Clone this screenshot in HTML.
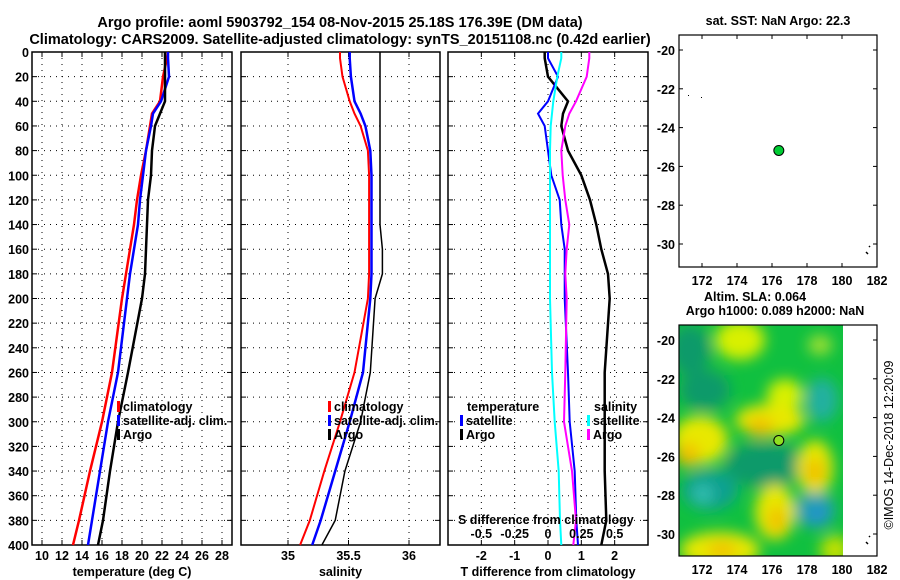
<!DOCTYPE html>
<html><head><meta charset="utf-8">
<style>
html,body{margin:0;padding:0;background:#fff;}
svg{display:block;font-family:"Liberation Sans",sans-serif;font-weight:bold;}
</style></head>
<body>
<svg id="chart" width="900" height="580" viewBox="0 0 900 580" xmlns="http://www.w3.org/2000/svg">
<text x="340" y="27" font-size="14.5" text-anchor="middle">Argo profile: aoml 5903792_154 08-Nov-2015 25.18S 176.39E (DM data)</text>
<text x="340" y="44" font-size="14.5" text-anchor="middle">Climatology: CARS2009. Satellite-adjusted climatology: synTS_20151108.nc (0.42d earlier)</text>
<g id="g"></g>
</svg>
<script>
const depths = [0,5,20,40,50,60,80,100,120,140,160,180,200,260,300,340,380,400];
const tempClim = [22.6,22.5,22.1,21.8,21.0,20.8,20.4,19.9,19.5,19.2,18.8,18.4,18.0,17.0,16.0,14.8,13.7,13.1];
const tempSat  = [22.6,22.6,22.7,21.9,21.1,20.9,20.4,20.1,19.8,19.6,19.2,18.8,18.5,17.6,16.6,15.8,15.0,14.6];
const tempArgo = [22.3,22.3,22.3,22.3,21.8,21.3,21.0,20.9,20.6,20.5,20.4,20.3,20.0,18.6,17.6,16.8,16.1,15.6];
const salClim = [35.43,35.43,35.45,35.51,35.55,35.6,35.66,35.67,35.67,35.67,35.67,35.67,35.66,35.55,35.43,35.3,35.18,35.1];
const salSat  = [35.51,35.51,35.52,35.55,35.6,35.64,35.68,35.69,35.69,35.69,35.69,35.69,35.68,35.62,35.51,35.39,35.27,35.2];
const salArgo = [35.76,35.76,35.76,35.76,35.76,35.76,35.76,35.76,35.76,35.76,35.78,35.78,35.72,35.68,35.6,35.47,35.39,35.28];
const tDiffSat  = [0.0,0.0,0.3,0.0,-0.3,-0.1,0.0,0.1,0.35,0.4,0.5,0.5,0.5,0.6,0.65,0.8,0.85,0.9];
const tDiffArgo = [-0.1,-0.1,0.0,0.6,0.45,0.4,0.6,1.0,1.26,1.45,1.6,1.8,1.85,1.7,1.7,1.7,1.75,1.6];
const sDiffSat  = [0.1,0.1,0.07,0.04,0.03,0.02,0.015,0.015,0.015,0.015,0.015,0.015,0.015,0.03,0.05,0.08,0.09,0.1];
const sDiffArgo = [0.31,0.31,0.29,0.21,0.16,0.13,0.1,0.11,0.13,0.16,0.14,0.13,0.14,0.13,0.12,0.18,0.21,0.19];
const depthTicks = [0,20,40,60,80,100,120,140,160,180,200,220,240,260,280,300,320,340,360,380,400];
const tempTicks = [10,12,14,16,18,20,22,24,26,28];
const salTicks = [35,35.5,36];
const salTickLabels = ["35","35.5","36"];
const tdTicks = [-2,-1,0,1,2];
const sdTicks = [-0.5,-0.25,0,0.25,0.5];
const sdTickLabels = ["-0.5","-0.25","0","0.25","0.5"];
const lonTicks = [172,174,176,178,180,182];
const latTicks = [-20,-22,-24,-26,-28,-30];
const argoLon = 176.39, argoLat = -25.18;

const NS="http://www.w3.org/2000/svg";
const G=document.getElementById('g');
function el(tag,attrs,parent){const e=document.createElementNS(NS,tag);for(const k in attrs)e.setAttribute(k,attrs[k]);(parent||G).appendChild(e);return e;}
const Y0=52,Y1=545;
const yD=d=>Y0+d*(Y1-Y0)/400;
const xT=t=>32+(t-9)*10;
const xS=s=>288+(s-35)*121;
const xTD=t=>548+t*33.33;
const xSD=s=>548+s*133.33;

function panel(name,x0,x1,xticks,xf,labels,xlabel,showY){
  const grp=el('g',{});
  
  
  depthTicks.forEach(d=>{
    if(d>0&&d<400){const l=el('line',{x1:x0,x2:x1,y1:yD(d),y2:yD(d),stroke:'#000','stroke-width':1,'stroke-dasharray':'1,5'},grp);}
    el('line',{x1:x0,x2:x0+5,y1:yD(d),y2:yD(d),stroke:'#000'},grp);
    el('line',{x1:x1-5,x2:x1,y1:yD(d),y2:yD(d),stroke:'#000'},grp);
    if(showY){const t=el('text',{x:29,y:yD(d)+5,'font-size':12.5,'text-anchor':'end'},grp);t.textContent=d;}
  });
  xticks.forEach((v,i)=>{
    const x=xf(v);
    const l=el('line',{x1:x,x2:x,y1:Y0,y2:Y1,stroke:'#000','stroke-width':1,'stroke-dasharray':'1,5'},grp);
    
    el('line',{x1:x,x2:x,y1:Y0,y2:Y0+5,stroke:'#000'},grp);
    el('line',{x1:x,x2:x,y1:Y1-5,y2:Y1,stroke:'#000'},grp);
    const t=el('text',{x:x,y:560,'font-size':12.5,'text-anchor':'middle'},grp);t.textContent=labels[i];
    
  });
  const r=el('rect',{x:x0,y:Y0,width:x1-x0,height:Y1-Y0,fill:'none',stroke:'#000','stroke-width':1.5},grp);
  
  const t=el('text',{x:(x0+x1)/2,y:576,'font-size':12.5,'text-anchor':'middle'},grp);t.textContent=xlabel;
  
  return grp;
}
function line(vals,xf,color,w,name){
  const p=vals.map((v,i)=>(i?'L':'M')+xf(v).toFixed(1)+','+yD(depths[i]).toFixed(1)).join('');
  const e=el('path',{d:p,fill:'none',stroke:color,'stroke-width':w});
  
  
}
function legend(x,y,color,label,name){
  const m=el('rect',{x:x,y:y-10,width:3,height:11,fill:color});
  
  const t=el('text',{x:x+6,y:y,'font-size':12.5});t.textContent=label;
  
}
function txt(x,y,s,name,anchor,size){const t=el('text',{x:x,y:y,'font-size':size||12.5,'text-anchor':anchor||'start'});t.textContent=s;return t;}

// Panel 1
panel('temperature-panel',32,232,tempTicks,xT,tempTicks.map(String),'temperature (deg C)',true);
line(tempClim,xT,'#f00',2.5,'temp-climatology-line');
line(tempSat,xT,'#00f',2.5,'temp-satellite-line');
line(tempArgo,xT,'#000',2.5,'temp-argo-line');
legend(117,411,'#f00','climatology','legend-climatology');
legend(117,425,'#00f','satellite-adj. clim.','legend-satellite-adj');
legend(117,439,'#000','Argo','legend-argo');
// Panel 2
panel('salinity-panel',241,440,salTicks,xS,salTickLabels,'salinity',false);
line(salClim,xS,'#f00',2,'sal-climatology-line');
line(salSat,xS,'#00f',2.5,'sal-satellite-line');
line(salArgo,xS,'#000',1.5,'sal-argo-line');
legend(328,411,'#f00','climatology','legend-sal-climatology');
legend(328,425,'#00f','satellite-adj. clim.','legend-sal-satellite-adj');
legend(328,439,'#000','Argo','legend-sal-argo');
// Panel 3
panel('difference-panel',448,648,tdTicks,xTD,tdTicks.map(String),'T difference from climatology',false);
line(tDiffArgo,xTD,'#000',2.5,'tdiff-argo-line');
line(tDiffSat,xTD,'#00f',2,'tdiff-satellite-line');
line(sDiffSat,xSD,'#0ff',2,'sdiff-satellite-line');
line(sDiffArgo,xSD,'#f0f',2,'sdiff-argo-line');
txt(467,411,'temperature','legend-temperature-heading');
legend(460,425,'#00f','satellite','legend-tdiff-satellite');
legend(460,439,'#000','Argo','legend-tdiff-argo');
txt(594,411,'salinity','legend-salinity-heading');
legend(587,425,'#0ff','satellite','legend-sdiff-satellite');
legend(587,439,'#f0f','Argo','legend-sdiff-argo');
txt(458,524,'S difference from climatology','s-diff-axis-title');
sdTicks.forEach((v,i)=>txt(xSD(v),538,sdTickLabels[i],'s-diff-tick-label','middle'));

// Maps
const MX0=679,MX1=877;
const lonX=l=>702+(l-172)*17.5;
function map(name,y0,y1,latY,title,yT){
  const grp=el('g',{});
  
  latTicks.forEach(v=>{
    const y=latY(v);
    el('line',{x1:MX0,x2:MX0+4,y1:y,y2:y,stroke:'#000'},grp);
    el('line',{x1:MX1-4,x2:MX1,y1:y,y2:y,stroke:'#000'},grp);
    const t=el('text',{x:675,y:y+5,'font-size':12.5,'text-anchor':'end'},grp);t.textContent=String(v).replace('-','-');
    
  });
  lonTicks.forEach(v=>{
    const x=lonX(v);
    el('line',{x1:x,x2:x,y1:y0,y2:y0+4,stroke:'#000'},grp);
    el('line',{x1:x,x2:x,y1:y1-4,y2:y1,stroke:'#000'},grp);
    const t=el('text',{x:x,y:y1+18,'font-size':12.5,'text-anchor':'middle'},grp);t.textContent=v;
    
  });
  return grp;
}
// top map
const latY1=l=>50+(-20-l)*19.4;
map('sst-map',35,267,latY1);
txt(778,25,'sat. SST: NaN Argo: 22.3','sst-map-title','middle');
el('rect',{x:MX0,y:35,width:MX1-MX0,height:232,fill:'none',stroke:'#000','stroke-width':1.2});
const dot=el('circle',{cx:lonX(argoLon),cy:latY1(argoLat),r:5,fill:'#00cc33',stroke:'#000','stroke-width':1});

el('rect',{x:688,y:95,width:1,height:1,fill:'#000'});el('rect',{x:701,y:97,width:1,height:1,fill:'#000'});
el('path',{d:'M866,252 l2,2 M869,247 l1,-1',stroke:'#000','stroke-width':1.5});

// bottom map
const latY2=l=>340+(-20-l)*19.4;
const defs=el('defs',{});
const f=el('filter',{id:'bl',x:'-50%',y:'-50%',width:'200%',height:'200%'},defs);
el('feGaussianBlur',{stdDeviation:7},f);
const cp=el('clipPath',{id:'cp'},defs);
el('rect',{x:MX0,y:325,width:164,height:231},cp);
map('sla-map',325,556,latY2);
const hm=el('g',{'clip-path':'url(#cp)'});

el('rect',{x:MX0,y:325,width:164,height:231,fill:'#10c040'},hm);
const blobs=el('g',{filter:'url(#bl)'},hm);
[[690,350,20,25,'#0a9a6a'],[740,340,25,20,'#d8f000'],[785,395,18,16,'#d8f000'],[820,345,12,10,'#a0e030'],
 [705,390,25,20,'#0a9a6a'],[822,400,16,22,'#20b0a0'],[770,420,35,16,'#e8e800'],[760,427,14,10,'#f0c000'],
 [700,440,28,24,'#e8e800'],[688,455,12,12,'#f0c000'],[765,465,40,22,'#0a9a6a'],[815,468,18,28,'#e8e800'],[815,472,10,14,'#f0c000'],
 [710,490,28,20,'#10a090'],[703,494,10,10,'#30c0b0'],[775,512,20,28,'#e8e800'],[777,520,9,14,'#f0c000'],
 [815,510,20,18,'#20a0b0'],[818,515,10,8,'#2090d0'],[720,550,40,18,'#e8e800'],[722,550,15,8,'#f0c000'],[835,550,15,15,'#c0e000']
].forEach(b=>el('ellipse',{cx:b[0],cy:b[1],rx:b[2],ry:b[3],fill:b[4]},blobs));
el('rect',{x:MX0,y:325,width:MX1-MX0,height:231,fill:'none',stroke:'#000','stroke-width':1.2});
const dot2=el('circle',{cx:lonX(argoLon),cy:latY2(argoLat),r:5,fill:'#90e020',stroke:'#000','stroke-width':1});

el('path',{d:'M866,542 l2,2 M869,537 l1,-1',stroke:'#000','stroke-width':1.5});
txt(755,301,'Altim. SLA: 0.064','sla-map-title','middle');
txt(775,315,'Argo h1000: 0.089 h2000: NaN','sla-map-subtitle','middle');
const cr=txt(893,445,'©IMOS 14-Dec-2018 12:20:09','copyright-label','middle',12.5);
cr.setAttribute('transform','rotate(-90 893 445)');cr.setAttribute('font-weight','normal');
</script>
</body></html>
